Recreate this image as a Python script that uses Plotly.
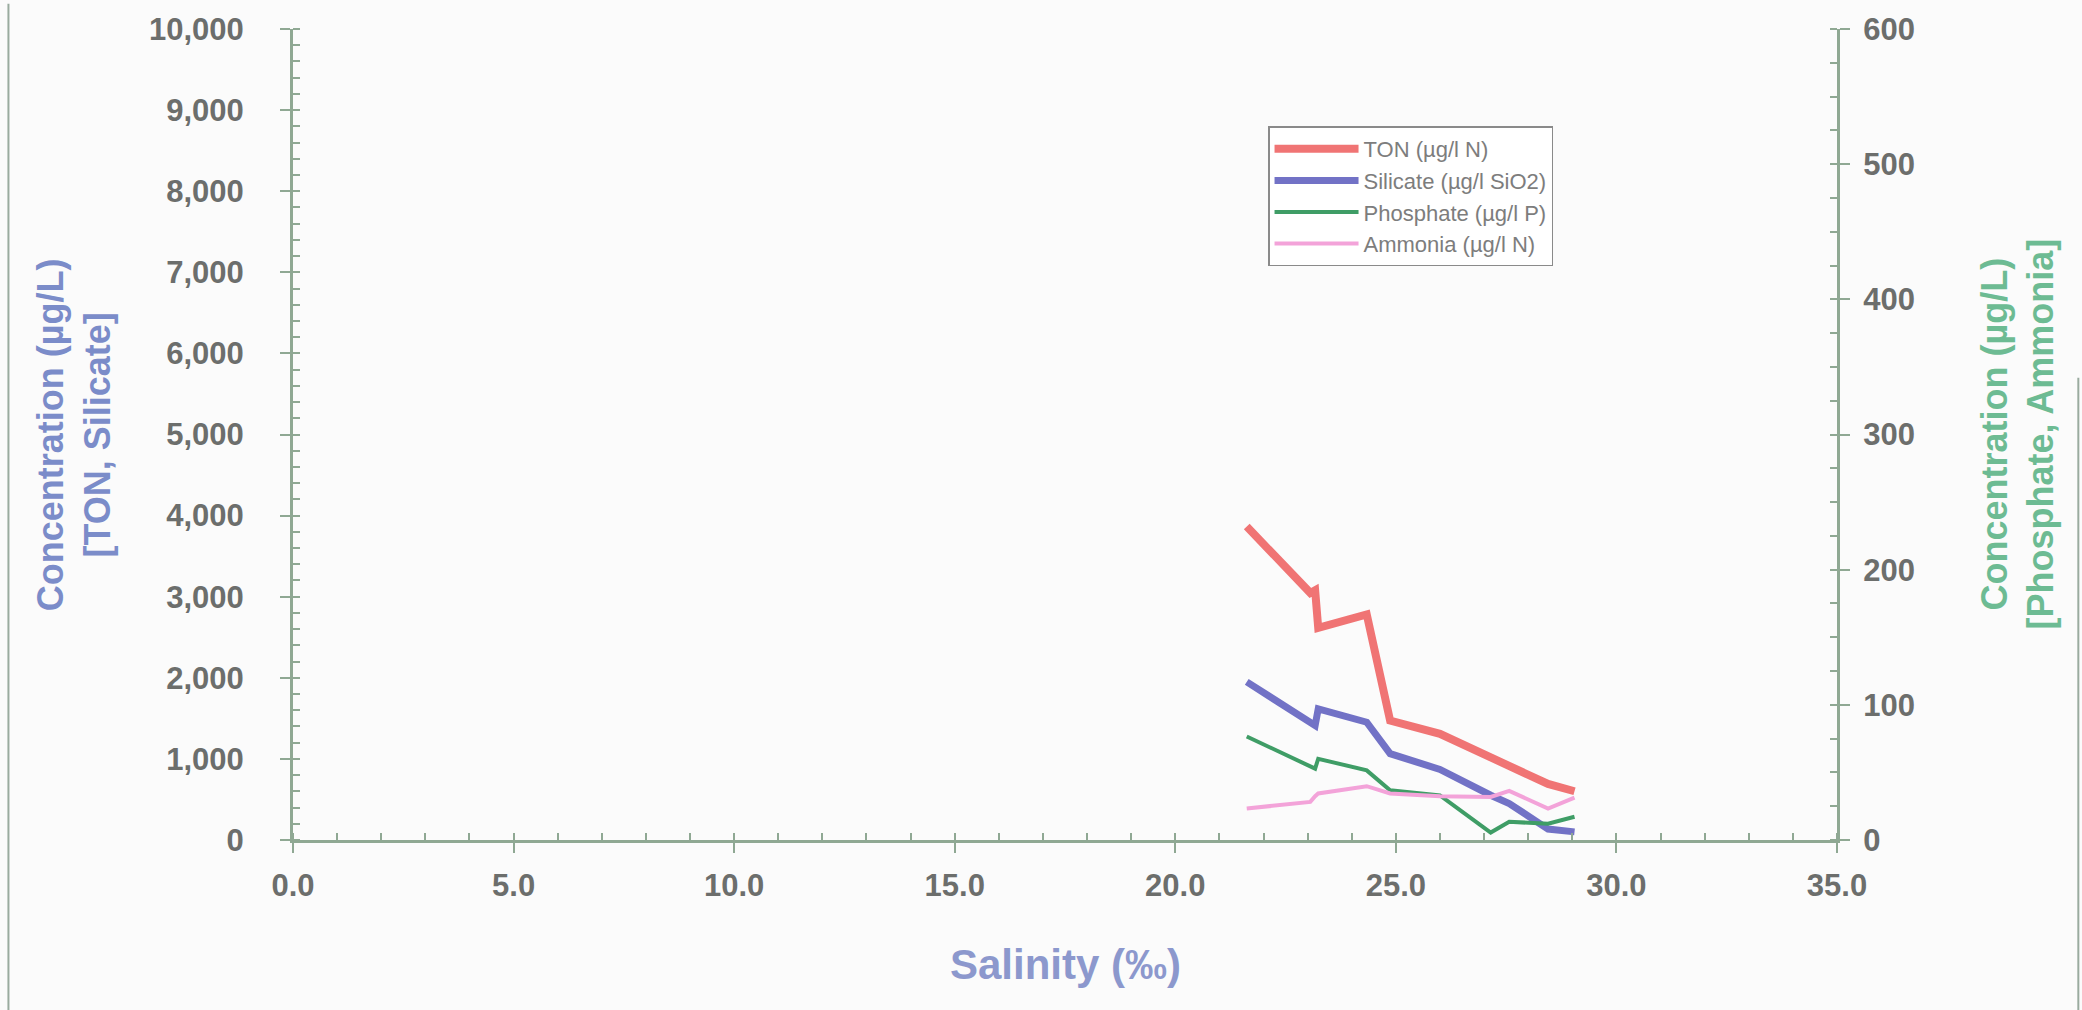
import plotly.graph_objects as go

# Salinity of each sampling station (‰)
salinity = [21.62, 23.06, 23.17, 23.24, 24.34, 24.87, 26.0, 27.15, 27.57, 28.45, 29.05]

# Nutrient concentrations (µg/L)
ton = [3865, 3047, 3080, 2617, 2781, 1472, 1309, 1020, 912, 691, 601]
silicate = [1950, 1437, 1411, 1616, 1452, 1064, 870, 552, 450, 135, 100]
phosphate = [76.6, 54.0, 52.8, 60.1, 51.5, 36.8, 33.0, 5.5, 13.5, 12.0, 17.2]
ammonia = [23.3, 28.2, 32.4, 34.4, 39.8, 34.4, 32.4, 31.9, 36.3, 23.3, 31.4]

series_names = ["TON (µg/l N)", "Silicate (µg/l SiO2)", "Phosphate (µg/l P)", "Ammonia (µg/l N)"]
x_ticks = [0, 5, 10, 15, 20, 25, 30, 35]

FONT = "Liberation Sans, Arial, sans-serif"
AXIS = "#8fa893"
TICKTXT = "#6c6e6c"

fig = go.Figure()
fig.add_trace(go.Scatter(x=salinity, y=ton, name=series_names[0], mode="lines",
                         line=dict(color="#f07474", width=8), yaxis="y"))
fig.add_trace(go.Scatter(x=salinity, y=silicate, name=series_names[1], mode="lines",
                         line=dict(color="#7272c6", width=7), yaxis="y"))
fig.add_trace(go.Scatter(x=salinity, y=phosphate, name=series_names[2], mode="lines",
                         line=dict(color="#3f9d66", width=4), yaxis="y2"))
fig.add_trace(go.Scatter(x=salinity, y=ammonia, name=series_names[3], mode="lines",
                         line=dict(color="#f3a3d9", width=4), yaxis="y2"))

tickfont = dict(family=FONT, size=31, color=TICKTXT, weight="bold")

fig.update_layout(
    width=2082, height=1010,
    margin=dict(l=293, r=245, t=25, b=170),
    paper_bgcolor="#fbfbfb", plot_bgcolor="#fbfbfb",
    showlegend=True,
    legend=dict(x=0.6315, y=0.8798, xanchor="left", yanchor="top",
                bgcolor="#ffffff", bordercolor="#8a8a8a", borderwidth=1.5,
                font=dict(family=FONT, size=22, color="#7d7d7d"),
                itemwidth=84, tracegroupgap=0),
    xaxis=dict(range=[0, 35], tickvals=x_ticks, tickformat=".1f",
               showgrid=False, zeroline=False,
               showline=True, linecolor=AXIS, linewidth=3,
               ticks="outside", ticklen=10, tickwidth=2, tickcolor=AXIS,
               minor=dict(dtick=1, ticks="inside", ticklen=7, tickwidth=2, tickcolor=AXIS),
               tickfont=tickfont, ticklabelstandoff=6),
    yaxis=dict(range=[0, 10000], dtick=1000, tickformat=",",
               showgrid=False, zeroline=False,
               showline=True, linecolor=AXIS, linewidth=3,
               ticks="outside", ticklen=10, tickwidth=2, tickcolor=AXIS,
               minor=dict(dtick=200, ticks="inside", ticklen=7, tickwidth=2, tickcolor=AXIS),
               tickfont=tickfont, ticklabelstandoff=30),
    yaxis2=dict(range=[0, 600], dtick=100, overlaying="y", side="right", anchor="x",
                showgrid=False, zeroline=False,
                showline=True, linecolor=AXIS, linewidth=3,
                ticks="outside", ticklen=10, tickwidth=2, tickcolor=AXIS,
                minor=dict(dtick=25, ticks="inside", ticklen=7, tickwidth=2, tickcolor=AXIS),
                tickfont=tickfont, ticklabelstandoff=7),
    # inner halves of the major ticks, so they cross the axis lines
    xaxis3=dict(range=[0, 35], tickvals=x_ticks, overlaying="x", anchor="y",
                showgrid=False, zeroline=False, showline=False, showticklabels=False,
                ticks="inside", ticklen=10, tickwidth=2, tickcolor=AXIS),
    yaxis3=dict(range=[0, 10000], dtick=1000, overlaying="y", anchor="x", side="left",
                showgrid=False, zeroline=False, showline=False, showticklabels=False,
                ticks="inside", ticklen=10, tickwidth=2, tickcolor=AXIS),
    yaxis4=dict(range=[0, 600], dtick=100, overlaying="y", anchor="x", side="right",
                showgrid=False, zeroline=False, showline=False, showticklabels=False,
                ticks="inside", ticklen=10, tickwidth=2, tickcolor=AXIS),
)

# Axis titles
fig.add_annotation(text="Concentration (µg/L)<br>[TON, Silicate]",
                   xref="paper", yref="paper", x=-0.142, y=0.5,
                   xanchor="center", yanchor="middle", textangle=-90, showarrow=False,
                   font=dict(family=FONT, size=36, color="#7b8cc9", weight="bold"))
fig.add_annotation(text="Concentration (µg/L)<br>[Phosphate, Ammonia]",
                   xref="paper", yref="paper", x=1.1166, y=0.5,
                   xanchor="center", yanchor="middle", textangle=-90, showarrow=False,
                   font=dict(family=FONT, size=36, color="#6dbb93", weight="bold"))
fig.add_annotation(text="Salinity (‰)",
                   xref="paper", yref="paper", x=0.5006, y=-0.1534,
                   xanchor="center", yanchor="middle", showarrow=False,
                   font=dict(family=FONT, size=42, color="#8c98cd", weight="bold"))

# Page frame edges
fig.add_shape(type="line", xref="paper", yref="paper",
              x0=-0.1843, x1=-0.1843, y0=-0.21, y1=1.031,
              line=dict(color="#9aab9f", width=2))
fig.add_shape(type="line", xref="paper", yref="paper",
              x0=1.1563, x1=1.1563, y0=-0.21, y1=0.57,
              line=dict(color="#9aab9f", width=2))

fig.write_html("out.html")
